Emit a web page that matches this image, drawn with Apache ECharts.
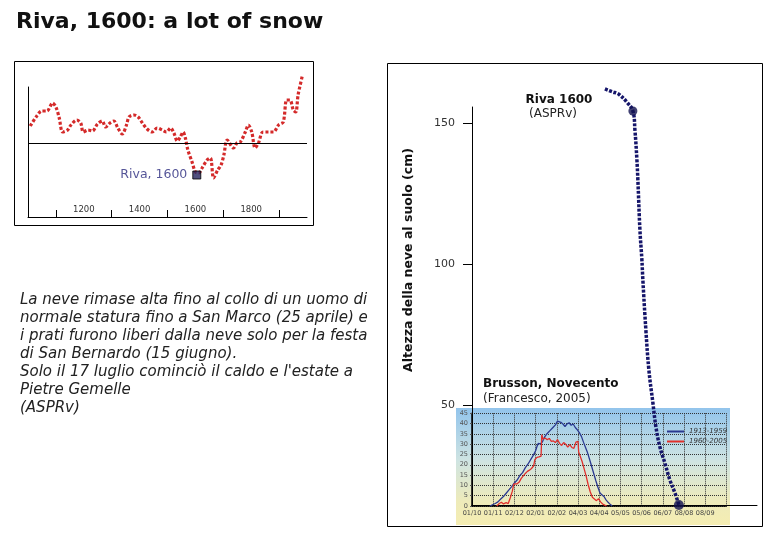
<!DOCTYPE html>
<html><head><meta charset="utf-8">
<script src="https://cdn.jsdelivr.net/npm/echarts@6/dist/echarts.min.js"></script>
<style>html,body{margin:0;padding:0;background:#fff}#c{width:780px;height:540px}</style>
</head><body><div id="c"></div>
<script>
// ---- Inset 1: temperature-like series (top left) ----
const tempYears = [1008,1029,1049,1068,1088,1100,1112,1124,1142,1154,1175,1189,1198,1215,1231,1249,1266,1278,1294,1308,1322,1338,1353,1362,1380,1395,1410,1427,1445,1463,1481,1496,1511,1523,1535,1546,1556,1564,1573,1588,1600,1612,1624,1642,1654,1665,1680,1692,1702,1714,1737,1749,1761,1779,1790,1802,1814,1826,1842,1862,1880,1898,1915,1927,1939,1951,1960,1968,1984];
const tempValues = [0.17,0.26,0.32,0.32,0.40,0.36,0.25,0.11,0.13,0.18,0.23,0.20,0.11,0.13,0.12,0.19,0.22,0.16,0.20,0.22,0.15,0.09,0.18,0.26,0.28,0.26,0.20,0.14,0.11,0.15,0.13,0.11,0.15,0.10,0.02,0.06,0.11,0.05,-0.07,-0.19,-0.29,-0.30,-0.25,-0.17,-0.15,-0.35,-0.27,-0.22,-0.12,0.03,-0.05,0.00,0.01,0.11,0.18,0.11,-0.05,0.00,0.11,0.11,0.11,0.18,0.21,0.43,0.43,0.33,0.31,0.48,0.68];
const tempTickYears = [1100,1300,1500,1700,1900];
const tempLabelYears = [1200,1400,1600,1800];
const rivaYear = 1605, rivaValue = -0.32, rivaLabel = 'Riva, 1600';

// ---- Inset 2: Brusson, Novecento ----
const monthLabels = ['01/10','01/11','02/12','02/01','02/02','04/03','04/04','05/05','05/06','06/07','08/08','08/09'];
const blueName = '1913-1959', redName = '1960-2005';
const blueDays = [26,30,34,38,42,46,50,54,58,62,66,70,74,78,82,86,90,93,95,97,100,103,106,110,114,118,122,125,127,130,133,136,139,142,145,148,151,154,157,160,163,166,169,172,175,178,181,184,187,190,193,196,199,202,205];
const blueValues = [0,0.6,1.2,2.0,3.4,4.6,6.2,7.8,9.4,11.2,12.6,14.8,16.2,18.6,20.4,22.6,24.8,26.8,28.9,30.4,30.1,31.2,33.4,35.2,36.6,38.0,39.4,41.2,41.8,40.6,39.8,38.6,39.9,40.4,39.2,39.8,38.1,37.0,35.6,33.8,31.0,28.4,25.8,22.6,19.2,15.8,12.4,9.2,6.4,5.4,4.6,3.0,1.8,0.8,0];
const redDays = [36,40,43,46,50,53,56,59,61,63,66,69,72,75,78,81,84,87,90,92,95,98,101,102,104,107,110,113,116,119,122,125,128,131,134,137,140,143,146,149,152,155,156,158,161,164,167,170,173,176,179,182,185,188,191,194,197];
const redValues = [0,1.2,1.8,1.0,1.6,1.2,4.0,7.2,10.6,11.4,10.8,11.6,13.4,14.6,15.8,16.8,17.4,18.2,19.4,22.6,23.6,23.8,24.2,34.6,32.4,33.0,32.2,32.8,31.4,31.6,30.8,32.2,30.4,29.4,30.8,30.0,28.6,29.8,28.4,28.0,31.0,31.4,26.2,24.4,21.6,18.0,14.4,10.2,6.8,4.2,3.4,2.6,3.6,2.0,1.0,0.4,0];

// ---- Main: Riva 1600 snow depth (cm) ----
const snowDays = [194.5,206.2,212,216.4,226.7,235.4,238.4,241.3,242.7,245.7,248.6,250,254.4,258.8,264.7,269.1,274.9,282.2,289.5,296.9,302.7];
const snowDepth = [162.1,161.0,160.6,159.9,157.4,154.3,147.5,136.9,129.8,112.1,101.4,94.3,76.6,62.4,50.7,42.2,35.1,29.4,23.4,18.8,14.5];
const snowMarkerIdx = [5, 20];
const depthTicks = [50,100,150];

const paragraph = [
  'La neve rimase alta fino al collo di un uomo di',
  'normale statura fino a San Marco (25 aprile) e',
  'i prati furono liberi dalla neve solo per la festa',
  'di San Bernardo (15 giugno).',
  "Solo il 17 luglio cominciò il caldo e l'estate a",
  'Pietre Gemelle',
  '(ASPRv)'
];

const FONT = '"DejaVu Sans", Verdana, sans-serif';
const zip = (a, b) => a.map((v, i) => [v, b[i]]);

const chart = echarts.init(document.getElementById('c'));
chart.setOption({
  animation: false,
  textStyle: { fontFamily: FONT },
  title: { text: 'Riva, 1600: a lot of snow', left: 11, top: 6,
    textStyle: { fontSize: 22, fontWeight: 'bold', color: '#111', fontFamily: FONT } },
  legend: {
    data: [blueName, redName], orient: 'vertical', left: 662, top: 423,
    icon: 'rect', itemWidth: 17, itemHeight: 2, itemGap: 3,
    textStyle: { fontSize: 7, fontStyle: 'italic', color: '#333', fontFamily: FONT }
  },
  grid: [
    { left: 28, top: 87, width: 279, height: 130 },
    { left: 472, top: 413.3, width: 254.4, height: 92.7 },
    { left: 472, top: 107, width: 285, height: 398 }
  ],
  xAxis: [
    { gridIndex: 0, type: 'value', min: 1000, max: 2000,
      axisLine: { onZero: false, lineStyle: { color: '#000' } }, splitLine: { show: false },
      axisTick: { customValues: tempTickYears, inside: true, length: 7, lineStyle: { color: '#000' } },
      axisLabel: { customValues: tempLabelYears, inside: true, margin: 3, fontSize: 8.5, color: '#333',
        formatter: v => String(v) } },
    { gridIndex: 1, type: 'value', min: 0, max: 372, interval: 31,
      axisLine: { onZero: false, lineStyle: { color: '#000', width: 1.5 } }, axisTick: { show: false },
      axisLabel: { fontSize: 6.5, color: '#444', margin: 4, showMaxLabel: false,
        formatter: v => monthLabels[Math.round(v / 31)] || '' },
      splitLine: { show: true, lineStyle: { type: 'dotted', color: '#333' } } },
    { gridIndex: 2, type: 'value', min: 0, max: 417,
      axisLine: { onZero: false, lineStyle: { color: '#000' } }, axisTick: { show: false },
      axisLabel: { show: false }, splitLine: { show: false } }
  ],
  yAxis: [
    { gridIndex: 0, type: 'value', min: -0.74, max: 0.56,
      axisLine: { show: true, onZero: false, lineStyle: { color: '#000' } }, axisTick: { show: false },
      axisLabel: { show: false }, splitLine: { show: false } },
    { gridIndex: 1, type: 'value', min: 0, max: 45, interval: 5,
      axisLine: { show: true, onZero: false, lineStyle: { color: '#000', width: 1.5 } },
      axisTick: { show: true, length: 2, lineStyle: { color: '#555' } },
      axisLabel: { fontSize: 6.5, color: '#555', margin: 4 },
      splitLine: { show: true, lineStyle: { type: 'dotted', color: '#333' } } },
    { gridIndex: 2, type: 'value', min: 14.5, max: 155.7,
      axisLine: { show: true, onZero: false, lineStyle: { color: '#000' } },
      axisTick: { show: true, customValues: depthTicks, length: 9, lineStyle: { color: '#000' } },
      axisLabel: { customValues: depthTicks, fontSize: 11, color: '#333', margin: 17 },
      splitLine: { show: false } }
  ],
  series: [
    { type: 'line', xAxisIndex: 0, yAxisIndex: 0, data: zip(tempYears, tempValues),
      smooth: 0.3, symbol: 'none', clip: false,
      lineStyle: { color: '#d42a2a', width: 3.2, type: [3, 2] },
      markLine: { silent: true, symbol: 'none', label: { show: false },
        lineStyle: { color: '#000', width: 1, type: 'solid' }, data: [{ yAxis: 0 }] } },
    { type: 'scatter', xAxisIndex: 0, yAxisIndex: 0, data: [[rivaYear, rivaValue]],
      symbol: 'rect', symbolSize: 8, z: 5,
      itemStyle: { color: '#23235e', borderColor: '#000', borderWidth: 1 },
      label: { show: true, position: 'left', distance: 5, formatter: rivaLabel,
        color: '#2a2a7e', fontSize: 12.5, fontFamily: FONT } },
    { type: 'line', name: blueName, xAxisIndex: 1, yAxisIndex: 1, data: zip(blueDays, blueValues),
      symbol: 'none', lineStyle: { color: '#2a3990', width: 1.3 }, itemStyle: { color: '#2a3990' } },
    { type: 'line', name: redName, xAxisIndex: 1, yAxisIndex: 1, data: zip(redDays, redValues),
      symbol: 'none', lineStyle: { color: '#e0302c', width: 1.3 }, itemStyle: { color: '#e0302c' } },
    { type: 'line', xAxisIndex: 2, yAxisIndex: 2, data: zip(snowDays, snowDepth),
      smooth: 0.4, symbol: 'none', clip: false, z: 6,
      lineStyle: { color: '#15156a', width: 3.5, type: [3, 1.5] } },
    { type: 'scatter', xAxisIndex: 2, yAxisIndex: 2, z: 7,
      data: snowMarkerIdx.map(i => [snowDays[i], snowDepth[i]]),
      symbol: 'circle', symbolSize: (v, p) => p.dataIndex === 0 ? 9 : 10,
      itemStyle: { color: '#111150' } }
  ],
  graphic: [
    { type: 'rect', z: -1, silent: true, shape: { x: 456, y: 408, width: 274, height: 117 },
      style: { fill: { type: 'linear', x: 0, y: 0, x2: 0, y2: 1, colorStops: [
        { offset: 0, color: '#92c4ec' }, { offset: 0.45, color: '#cfe4e2' },
        { offset: 0.8, color: '#eeebba' }, { offset: 1, color: '#f5edb2' } ] } } },
    { type: 'rect', silent: true, shape: { x: 14.5, y: 61.5, width: 299, height: 164 },
      style: { fill: 'none', stroke: '#000', lineWidth: 1 } },
    { type: 'rect', silent: true, shape: { x: 387.5, y: 63.5, width: 375, height: 463 },
      style: { fill: 'none', stroke: '#000', lineWidth: 1 } },
    { type: 'text', x: 20, y: 291, silent: true,
      style: { text: paragraph.join('\n'), font: 'italic 15px ' + FONT, lineHeight: 18, fill: '#222' } },
    { type: 'text', x: 409, y: 260, rotation: Math.PI / 2, silent: true,
      style: { text: 'Altezza della neve al suolo (cm)', font: 'bold 12.5px ' + FONT, fill: '#111',
        align: 'center', verticalAlign: 'middle' } },
    { type: 'text', x: 559, y: 100, silent: true,
      style: { text: 'Riva 1600', font: 'bold 12px ' + FONT, fill: '#111', align: 'center', verticalAlign: 'middle' } },
    { type: 'text', x: 553, y: 114, silent: true,
      style: { text: '(ASPRv)', font: '12px ' + FONT, fill: '#222', align: 'center', verticalAlign: 'middle' } },
    { type: 'text', x: 483, y: 384, silent: true,
      style: { text: 'Brusson, Novecento', font: 'bold 12px ' + FONT, fill: '#111', verticalAlign: 'middle' } },
    { type: 'text', x: 483, y: 399, silent: true,
      style: { text: '(Francesco, 2005)', font: '12px ' + FONT, fill: '#222', verticalAlign: 'middle' } }
  ]
});
</script>
</body></html>
